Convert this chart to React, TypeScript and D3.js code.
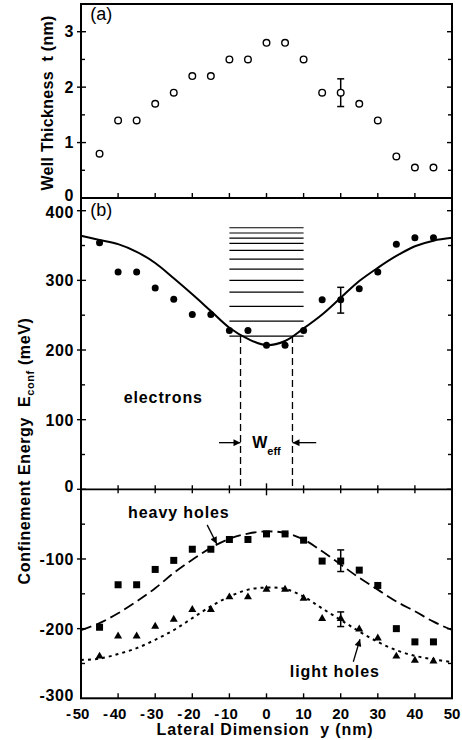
import React from "react";
import * as d3 from "d3";

// ---------- data ----------
const yPos = [-45, -40, -35, -30, -25, -20, -15, -10, -5, 0, 5, 10, 15, 20, 25, 30, 35, 40, 45];
const thickness = [0.8, 1.4, 1.4, 1.7, 1.9, 2.2, 2.2, 2.5, 2.5, 2.8, 2.8, 2.5, 1.9, 1.9, 1.7, 1.4, 0.75, 0.55, 0.55];
const electrons = [354, 312, 312, 289, 273, 251, 251, 228, 228, 207, 207, 228, 272, 272, 288, 312, 352, 361, 361];
const heavyHoles = [-198, -137, -137, -115, -102, -86, -86, -72, -72, -64, -64, -73, -103, -103, -116, -138, -200, -219, -219];
const lightHoles = [-239, -210, -210, -196, -186, -172, -172, -154, -154, -143, -143, -156, -185, -185, -200, -213, -239, -245, -246];

const fitPos = [-50, -45, -40, -35, -30, -25, -20, -15, -10, -5, 0, 5, 10, 15, 20, 25, 30, 35, 40, 45, 50];
const electronFit = [364, 358, 352, 341, 325, 303, 280, 256, 232, 216, 207, 213, 231, 251, 275, 299, 318, 335, 349, 357, 361];
const heavyFit = [-202, -192, -178, -161, -142, -120, -101, -84, -71, -63.5, -60.5, -62.5, -72, -89, -108, -127, -144, -161, -175, -190, -202];
const lightFit = [-245, -243, -236.5, -228, -216, -202, -185, -168, -154, -144, -141, -143, -154, -171, -187.5, -204, -219, -231, -239, -244, -248];

const energyLevels = [220, 241.5, 262.7, 283, 300, 316, 330.4, 343, 353, 360.7, 368, 375.5];
const levelRange = [-10, 10];
const weff = [-7, 7];

// error bars: [x, low, high]
const errA = [20, 1.65, 2.15];
const errE = [20, 253, 290];
const errH = [20, -118, -87];
const errL = [20, -197, -176];

const xTicks = [-50, -40, -30, -20, -10, 0, 10, 20, 30, 40, 50];
const aTicks = [0, 1, 2, 3];
const aMinor = [0.5, 1.5, 2.5];
const bTicks = [-300, -200, -100, 0, 100, 200, 300, 400];
const bMinor = [-250, -150, -50, 50, 150, 250, 350];

const FONT = "'Liberation Sans', Arial, Helvetica, sans-serif";

export default function App() {
  const W = 462, H = 740;
  const x = d3.scaleLinear().domain([-50, 50]).range([81, 452]);
  const ya = d3.scaleLinear().domain([0, 3.5]).range([198, 4]);
  const yb = d3.scaleLinear().domain([-300, 400]).range([698.3, 210.7]);
  const L = x(-50), R = x(50);
  const aTop = ya(3.5), aBot = ya(0);
  const bBot = yb(-300), bZero = yb(0);

  const lineE = d3.line<number>().x((_, i) => x(fitPos[i])).y((d) => yb(d)).curve(d3.curveCatmullRom);
  const sq = 7;
  const tri = (cx: number, cy: number) => {
    const s = 8;
    const h = s * 0.866;
    return `M${cx},${cy - h * 0.6}L${cx + s / 2},${cy + h * 0.4}L${cx - s / 2},${cy + h * 0.4}Z`;
  };

  const err = (e: number[], sc: (v: number) => number, key: string) => (
    <g key={key} stroke="#000" strokeWidth={1.5}>
      <line x1={x(e[0])} x2={x(e[0])} y1={sc(e[1])} y2={sc(e[2])} />
      <line x1={x(e[0]) - 3.5} x2={x(e[0]) + 3.5} y1={sc(e[1])} y2={sc(e[1])} />
      <line x1={x(e[0]) - 3.5} x2={x(e[0]) + 3.5} y1={sc(e[2])} y2={sc(e[2])} />
    </g>
  );

  const xLabel = (v: number) => {
    const s = String(Math.abs(v));
    const half = s.length * 4.3;
    return (
      <g key={"xl" + v} fontSize={15} fontWeight="bold" fontFamily={FONT}>
        <text x={x(v)} y={718.5} textAnchor="middle">{s}</text>
        {v < 0 && <text x={x(v) - half - 1.5} y={718.5} textAnchor="end">-</text>}
      </g>
    );
  };

  const yLabelOffset = (v: number) => (v === 0 ? 3 : v === 400 ? 7 : v === -300 ? 2.5 : 6);

  return (
    <svg width={W} height={H} style={{ position: "absolute", left: 0, top: 0, background: "#fff" }}>
      <defs>
        <marker id="ah" viewBox="0 0 10 10" refX="10" refY="5" markerWidth="9" markerHeight="7" orient="auto" markerUnits="userSpaceOnUse">
          <path d="M0,0L10,5L0,10Z" fill="#000" />
        </marker>
      </defs>
      <rect width={W} height={H} fill="#fff" />

      {/* frame */}
      <g stroke="#000" strokeWidth={2} fill="none">
        <rect x={L} y={aTop} width={R - L} height={bBot - aTop} />
        <line x1={L} x2={R} y1={aBot} y2={aBot} />
        <line x1={L} x2={R} y1={bZero} y2={bZero} strokeWidth={1.6} />
      </g>

      {/* x ticks */}
      <g stroke="#000" strokeWidth={1.4}>
        {xTicks.slice(1, -1).map((v) => (
          <g key={"xt" + v}>
            <line x1={x(v)} x2={x(v)} y1={aBot} y2={aBot - 5} />
            <line x1={x(v)} x2={x(v)} y1={bZero - (v === 0 ? 6 : 4)} y2={bZero + (v === 0 ? 6 : 4)} />
            <line x1={x(v)} x2={x(v)} y1={bBot} y2={bBot - 5} />
          </g>
        ))}
      </g>

      {/* y ticks */}
      <g stroke="#000" strokeWidth={1.4}>
        {aTicks.slice(1).map((v) => (
          <g key={"at" + v}>
            <line x1={L - 4} x2={L + 5} y1={ya(v)} y2={ya(v)} />
            <line x1={R} x2={R - 5} y1={ya(v)} y2={ya(v)} />
          </g>
        ))}
        {aMinor.map((v) => (
          <g key={"am" + v}>
            <line x1={L} x2={L + 4} y1={ya(v)} y2={ya(v)} />
            <line x1={R} x2={R - 4} y1={ya(v)} y2={ya(v)} />
          </g>
        ))}
        {bTicks.slice(1).map((v) => (
          <g key={"bt" + v}>
            <line x1={L - 4} x2={L + 5} y1={yb(v)} y2={yb(v)} />
            <line x1={R} x2={R - 5} y1={yb(v)} y2={yb(v)} />
          </g>
        ))}
        {bMinor.map((v) => (
          <g key={"bm" + v}>
            <line x1={L} x2={L + 4} y1={yb(v)} y2={yb(v)} />
            <line x1={R} x2={R - 4} y1={yb(v)} y2={yb(v)} />
          </g>
        ))}
      </g>

      {/* tick labels */}
      <g fontSize={16} fontWeight="bold" fontFamily={FONT} textAnchor="end" letterSpacing={0.6}>
        {aTicks.map((v) => (
          <text key={"al" + v} x={74} y={ya(v) + (v === 0 ? 3 : 5.5)}>{v}</text>
        ))}
        {bTicks.map((v) => (
          <text key={"bl" + v} x={74} y={yb(v) + yLabelOffset(v)}>{v}</text>
        ))}
      </g>
      {xTicks.map(xLabel)}

      {/* titles */}
      <g fontFamily={FONT} fontWeight="bold" fontSize={16}>
        <text x={265} y={735} textAnchor="middle" letterSpacing={0.85} xmlSpace="preserve">Lateral Dimension  y (nm)</text>
        <text transform={`translate(53,${(aTop + aBot) / 2 + 2}) rotate(-90)`} textAnchor="middle" letterSpacing={0.3} xmlSpace="preserve">
          Well Thickness  t (nm)
        </text>
        <text transform={`translate(30,451) rotate(-90)`} textAnchor="middle" letterSpacing={0.6} xmlSpace="preserve">
          Confinement Energy  E<tspan fontSize={11} dy={4}>conf</tspan><tspan dy={-4}> (meV)</tspan>
        </text>
      </g>

      {/* panel letters */}
      <g fontFamily={FONT} fontSize={18}>
        <text x={x(-47.5)} y={ya(3.22)}>(a)</text>
        <text x={x(-47.5)} y={yb(393)}>(b)</text>
      </g>

      {/* panel a: open circles */}
      {err(errA, ya, "ea")}
      <g fill="#fff" stroke="#000" strokeWidth={1.4}>
        {yPos.map((p, i) => (
          <circle key={"a" + i} cx={x(p)} cy={ya(thickness[i])} r={3.3} />
        ))}
      </g>

      {/* energy levels */}
      <g stroke="#000" strokeWidth={1.2}>
        {energyLevels.map((e, i) => (
          <line key={"lv" + i} x1={x(levelRange[0])} x2={x(levelRange[1])} y1={yb(e)} y2={yb(e)} />
        ))}
      </g>

      {/* W_eff dashed lines */}
      <g stroke="#000" strokeWidth={1.3} strokeDasharray="7,4">
        {weff.map((w) => (
          <line key={"w" + w} x1={x(w)} x2={x(w)} y1={yb(220)} y2={yb(0)} />
        ))}
      </g>
      <g stroke="#000" strokeWidth={1.3}>
        <line x1={x(-12.8)} x2={x(weff[0])} y1={yb(67)} y2={yb(67)} markerEnd="url(#ah)" />
        <line x1={x(13.4)} x2={x(weff[1])} y1={yb(67)} y2={yb(67)} markerEnd="url(#ah)" />
      </g>
      <text x={x(0)} y={yb(59)} fontFamily={FONT} fontWeight="bold" fontSize={16} textAnchor="middle">
        W<tspan fontSize={11} dy={7}>eff</tspan>
      </text>

      {/* fits */}
      <path d={lineE(electronFit) || ""} fill="none" stroke="#000" strokeWidth={2} />
      <path d={lineE(heavyFit) || ""} fill="none" stroke="#000" strokeWidth={1.8} strokeDasharray="11,5" />
      <path d={lineE(lightFit) || ""} fill="none" stroke="#000" strokeWidth={2} strokeDasharray="3,4" />

      {/* electrons */}
      {err(errE, yb, "ee")}
      <g fill="#000">
        {yPos.map((p, i) => (
          <circle key={"e" + i} cx={x(p)} cy={yb(electrons[i])} r={3.5} />
        ))}
      </g>

      {/* heavy holes */}
      {err(errH, yb, "eh")}
      <g fill="#000">
        {yPos.map((p, i) => (
          <rect key={"h" + i} x={x(p) - sq / 2} y={yb(heavyHoles[i]) - sq / 2} width={sq} height={sq} />
        ))}
      </g>

      {/* light holes */}
      {err(errL, yb, "el")}
      <g fill="#000">
        {yPos.map((p, i) => (
          <path key={"l" + i} d={tri(x(p), yb(lightHoles[i]))} />
        ))}
      </g>

      {/* annotations */}
      <g fontFamily={FONT} fontWeight="bold" fontSize={16} letterSpacing={0.9}>
        <text x={x(-38.5)} y={yb(124)}>electrons</text>
        <text x={x(-37.3)} y={yb(-41)}>heavy holes</text>
        <text x={x(6.3)} y={yb(-269)}>light holes</text>
      </g>
      <g stroke="#000" strokeWidth={1.3}>
        <line x1={x(-16)} y1={yb(-51)} x2={x(-13.4)} y2={yb(-78.5)} markerEnd="url(#ah)" />
        <line x1={x(23.4)} y1={yb(-247.5)} x2={x(25.2)} y2={yb(-215.3)} markerEnd="url(#ah)" />
      </g>
    </svg>
  );
}
